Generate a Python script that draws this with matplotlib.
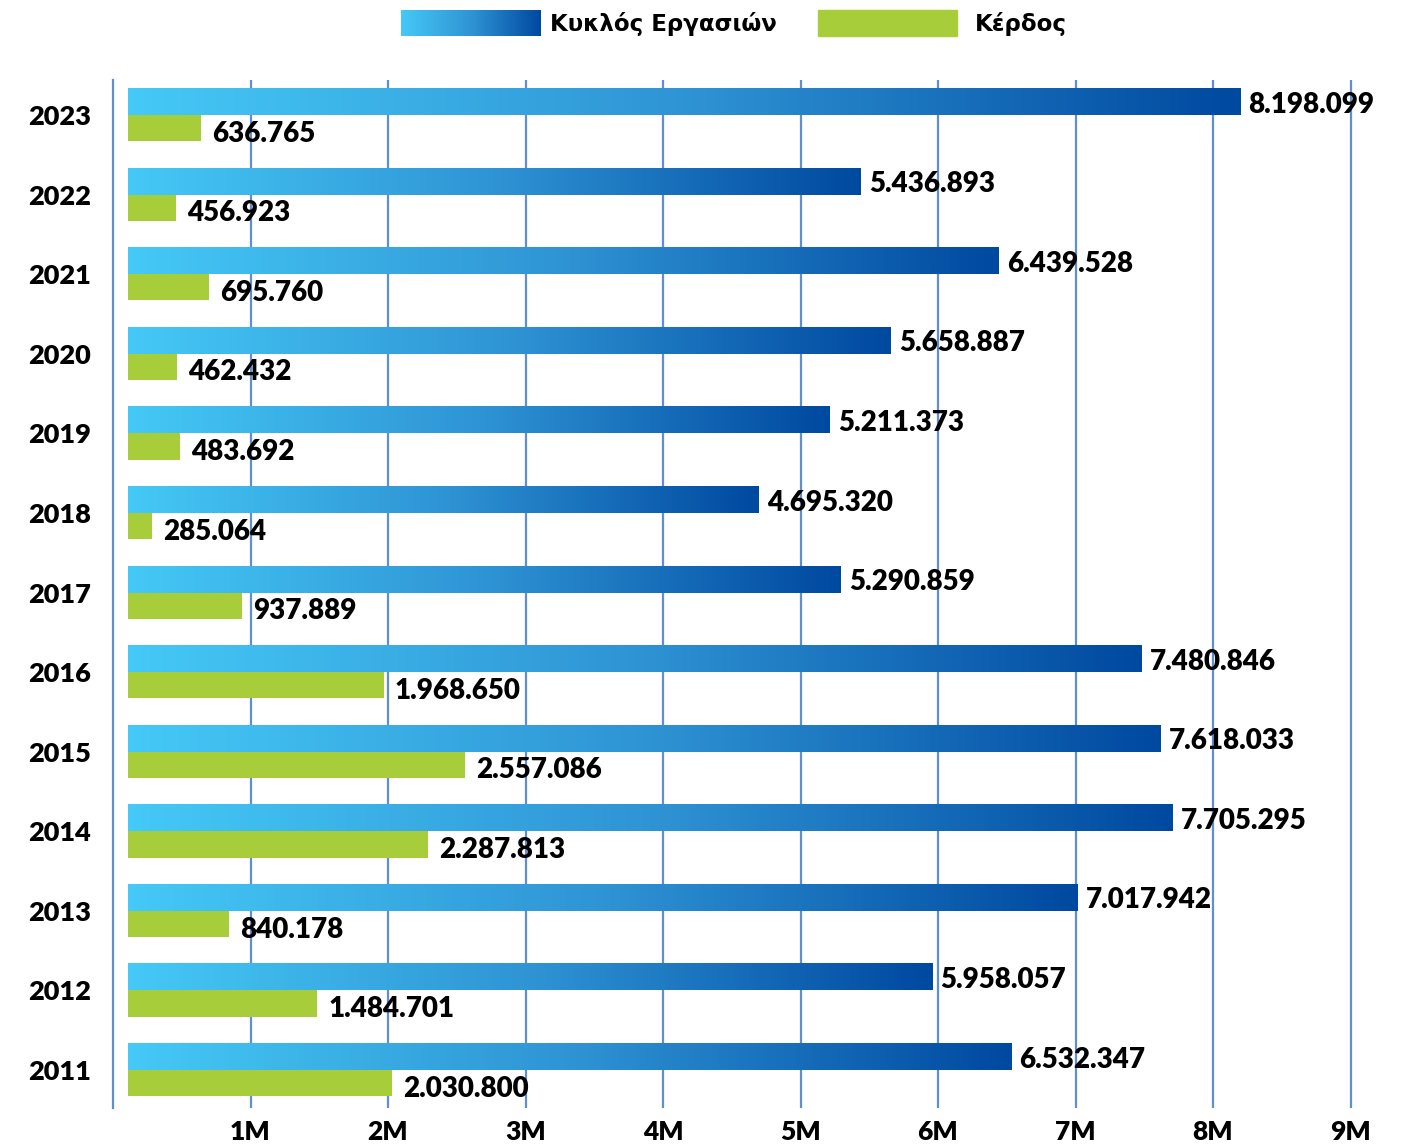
import numpy as np
import matplotlib.pyplot as plt
from matplotlib.colors import LinearSegmentedColormap

# =============================================================================
# Datos
# =============================================================================

years = ['2011', '2012', '2013', '2014', '2015', '2016', '2017',
         '2018', '2019', '2020', '2021', '2022', '2023']

turnover = [6532347, 5958057, 7017942, 7705295, 7618033, 7480846, 5290859,
            4695320, 5211373, 5658887, 6439528, 5436893, 8198099]

profit = [2030800, 1484701, 840178, 2287813, 2557086, 1968650, 937889,
          285064, 483692, 462432, 695760, 456923, 636765]

tick_vals = [1e6, 2e6, 3e6, 4e6, 5e6, 6e6, 7e6, 8e6, 9e6]
tick_labels = ['1M', '2M', '3M', '4M', '5M', '6M', '7M', '8M', '9M']

legend_labels = ['Κυκλός Εργασιών', 'Κέρδος']

# =============================================================================
# Estilo
# =============================================================================

W, H, DPI = 1415, 1146, 100
blue_cmap = LinearSegmentedColormap.from_list(
    'grad', ['#45c9f6', '#2f94d4', '#0049a0'])
green = '#a8cd3a'
grid_c = '#5f8fcf'
num_font = dict(family=['Lato', 'DejaVu Sans'], weight='heavy')

bh = 0.33           # altura de barra (unidades de fila)
bar_start = 0.11e6  # las barras empiezan un poco despues del eje

fig = plt.figure(figsize=(W / DPI, H / DPI), dpi=DPI)

# ejes: x=0 en px 113, ~137.5 px por millon
x0_px, scale = 113, 137.5
ax_w_px = 1400 - x0_px
ax = fig.add_axes([x0_px / W, 1 - 1108 / H, ax_w_px / W, (1108 - 80) / H])

grad = np.linspace(0, 1, 256).reshape(1, -1)
y = np.arange(len(years))

for i in range(len(years)):
    # barra azul con gradiente
    ax.imshow(grad, cmap=blue_cmap, aspect='auto', interpolation='bilinear',
              extent=[bar_start, turnover[i], i, i + bh], zorder=2)
    ax.barh(i - bh / 2, profit[i] - bar_start, left=bar_start, height=bh,
            color=green, zorder=2)

    t_lbl = f'{turnover[i]:,}'.replace(',', '.')
    p_lbl = f'{profit[i]:,}'.replace(',', '.')
    ax.annotate(t_lbl, (turnover[i], i + bh / 2), xytext=(6, -2),
                textcoords='offset points', va='center', ha='left',
                fontsize=20, zorder=3, **num_font)
    ax.annotate(p_lbl, (profit[i], i - bh / 2), xytext=(8, -4),
                textcoords='offset points', va='center', ha='left',
                fontsize=20, zorder=3, **num_font)

ax.set_xlim(0, ax_w_px / scale * 1e6)
ax.set_ylim((1070 - 1108) / 79.58, (1070 - 80) / 79.58)

ax.set_xticks(tick_vals)
ax.set_xticklabels(tick_labels, fontsize=19, **num_font)
ax.set_yticks(y)
ax.set_yticklabels(years, fontsize=19.5, **num_font)
ax.tick_params(axis='both', length=0)
ax.tick_params(axis='y', pad=16)
ax.tick_params(axis='x', pad=9)

ax.grid(axis='x', color=grid_c, linewidth=1.6)
ax.set_axisbelow(True)
for s in ['top', 'right', 'bottom']:
    ax.spines[s].set_visible(False)
ax.spines['left'].set_color(grid_c)
ax.spines['left'].set_linewidth(1.6)

# =============================================================================
# Leyenda
# =============================================================================

lg = fig.add_axes([401 / W, 1 - 36 / H, 139 / W, 26 / H])
lg.imshow(grad, cmap=blue_cmap, aspect='auto', interpolation='bilinear')
lg.axis('off')
fig.patches.append(plt.Rectangle((818 / W, 1 - 36 / H), 139 / W, 26 / H,
                                 transform=fig.transFigure, color=green))
fig.text(550 / W, 1 - 24 / H, legend_labels[0], fontsize=16.5, weight='bold',
         family='DejaVu Sans', va='center')
fig.text(975 / W, 1 - 24 / H, legend_labels[1], fontsize=16.5, weight='bold',
         family='DejaVu Sans', va='center')

fig.savefig('out.png', dpi=DPI)
